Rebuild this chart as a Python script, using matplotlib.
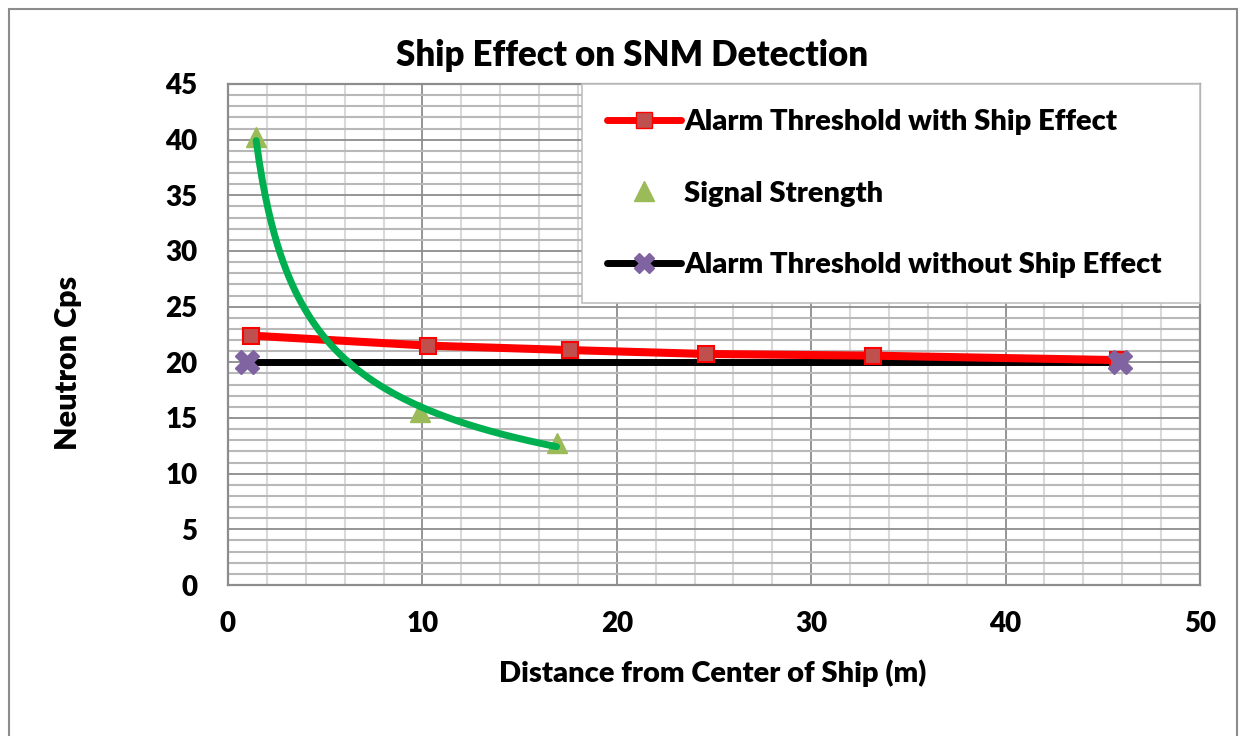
import numpy as np
import matplotlib.pyplot as plt
from matplotlib.patches import Rectangle
from matplotlib.ticker import MultipleLocator

plt.rcParams['font.family'] = ['Lato', 'DejaVu Sans']
plt.rcParams['font.weight'] = 'bold'
WT = 'heavy'

# Alarm threshold with ship effect
ship_x = [1.2, 10.3, 17.6, 24.6, 33.2, 45.8]
ship_y = [22.4, 21.5, 21.1, 20.75, 20.6, 20.2]

# Signal strength
sig_x = [1.45, 9.9, 16.9]
sig_y = [40.2, 15.5, 12.75]

# Alarm threshold without ship effect
noship_x = [1.0, 45.9]
noship_y = [20.0, 20.0]

W, H = 1246, 736
fig = plt.figure(figsize=(W / 100, H / 100), dpi=100)
ax = fig.add_axes([228/W, 1 - 585/H, 972/W, 501/H])

# outer chart border
fig.patches.append(Rectangle((9/W, -0.01), 1228/W, 1 - 9/H + 0.01,
                             transform=fig.transFigure, fill=False,
                             edgecolor='#8c8c8c', linewidth=1.5))

ax.set_xlim(0, 50)
ax.set_ylim(0, 45)
ax.xaxis.set_major_locator(MultipleLocator(10))
ax.xaxis.set_minor_locator(MultipleLocator(2))
ax.yaxis.set_major_locator(MultipleLocator(5))
ax.yaxis.set_minor_locator(MultipleLocator(1))

ax.grid(which='minor', axis='x', color='#d9d9d9', linewidth=1.5, zorder=0)
ax.grid(which='minor', axis='y', color='#b8b8b8', linewidth=1.5, zorder=0)
ax.grid(which='major', axis='both', color='#8c8c8c', linewidth=1.3, zorder=0)
ax.set_axisbelow(True)

for s in ax.spines.values():
    s.set_color('#8c8c8c')
    s.set_linewidth(1.6)
ax.tick_params(which='both', length=0)
ax.tick_params(axis='both', labelsize=20)
ax.tick_params(axis='y', pad=22)
ax.tick_params(axis='x', pad=19)
for lab in ax.get_xticklabels() + ax.get_yticklabels():
    lab.set_fontweight(WT)

# series
ax.plot(noship_x, noship_y, color='black', linewidth=5, zorder=3, solid_capstyle='round')
ax.plot(ship_x, ship_y, color='#ff0000', linewidth=5.8, zorder=4, solid_capstyle='round',
        solid_joinstyle='round')
ax.plot(ship_x, ship_y, linestyle='none', marker='s', markersize=12,
        markerfacecolor='#c0504d', markeredgecolor='#ff0000', markeredgewidth=1.5, zorder=5)
ax.plot(noship_x, noship_y, linestyle='none', marker='X', markersize=17,
        markerfacecolor='#8064a2', markeredgecolor='#8064a2', zorder=6)
ax.plot(sig_x, sig_y, linestyle='none', marker='^', markersize=15,
        color='#9bbb59', zorder=5)

# power trendline for the signal strength
b, lna = np.polyfit(np.log(sig_x), np.log(sig_y), 1)
tx = np.linspace(min(sig_x), max(sig_x), 200)
ax.plot(tx, np.exp(lna) * tx ** b, color='#00b050', linewidth=5, zorder=7,
        solid_capstyle='round')

# legend handles
h1, = ax.plot([], [], color='#ff0000', linewidth=5, marker='s', markersize=12,
              markerfacecolor='#c0504d', markeredgecolor='#ff0000', solid_capstyle='round')
h2, = ax.plot([], [], linestyle='none', marker='^', markersize=14, color='#9bbb59')
h3, = ax.plot([], [], color='black', linewidth=5, marker='X', markersize=15,
              markerfacecolor='#8064a2', markeredgecolor='#8064a2', solid_capstyle='round')
leg = ax.legend([h1, h2, h3],
                ['Alarm Threshold with Ship Effect', 'Signal Strength',
                 'Alarm Threshold without Ship Effect'],
                loc='upper left', bbox_to_anchor=(354/972, 1.0, 618/972, 0), mode='expand',
                borderaxespad=0, fancybox=False, framealpha=1, edgecolor='#bfbfbf',
                prop={'size': 21, 'weight': WT}, handlelength=2.55, handletextpad=0.1,
                labelspacing=1.57, borderpad=0.85)
leg.set_zorder(10)
leg.get_frame().set_linewidth(1.2)

fig.text(632/W, 1 - 55/H, 'Ship Effect on SNM Detection', fontsize=25, fontweight=WT,
         ha='center', va='center')
fig.text(713/W, 1 - 673/H, 'Distance from Center of Ship (m)', fontsize=21,
         fontweight=WT, ha='center', va='center')
fig.text(68/W, 1 - 363/H, 'Neutron Cps', fontsize=22, fontweight=WT,
         ha='center', va='center', rotation=90)

fig.savefig('out.png', dpi=100)
